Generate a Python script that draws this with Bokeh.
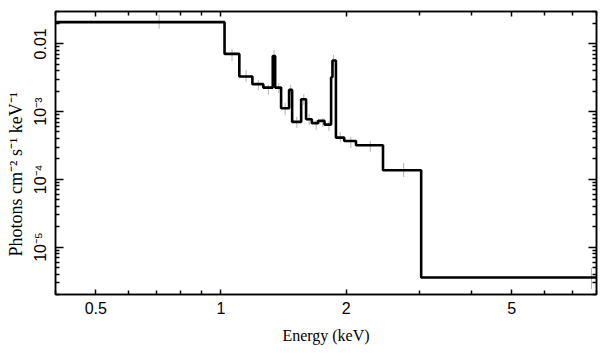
from bokeh.plotting import figure
from bokeh.models import LogAxis, FixedTicker, CustomJSTickFormatter, Range1d, ColumnDataSource, Title
from bokeh.embed import file_html
from bokeh.resources import INLINE

# Model step function: bin edges (keV) and model values (photons cm^-2 s^-1 keV^-1)
bin_edges = [0.4, 1.02, 1.107, 1.19, 1.264, 1.332, 1.350, 1.395, 1.458, 1.483,
             1.559, 1.602, 1.654, 1.713, 1.774, 1.840, 1.854, 1.89, 1.979,
             2.112, 2.453, 3.03, 8.0]
model_vals = [0.0209, 0.0071, 0.00329, 0.00254, 0.00226, 0.0066, 0.00226,
              0.00112, 0.00209, 0.000705, 0.00152, 0.000773, 0.000675,
              0.00073, 0.000643, 0.00322, 0.00567, 0.000413, 0.000369,
              0.000318, 0.000136, 3.56e-6]

# Data points with error ranges
data_energy = [0.71, 1.063, 1.149, 1.23, 1.30, 1.342, 1.377, 1.427, 1.471,
               1.522, 1.582, 1.63, 1.694, 1.758, 1.818, 1.865, 1.935, 2.053,
               2.286, 2.75, 7.78]
data_lo = [0.0167, 0.00561, 0.00275, 0.00209, 0.00177, 0.00581, 0.00189,
           0.000894, 0.00177, 0.000574, 0.00126, 0.000637, 0.000537,
           0.000594, 0.000519, 0.00473, 0.000356, 0.000291, 0.000254,
           0.000108, 2.40e-6]
data_hi = [0.0268, 0.00844, 0.00413, 0.00294, 0.00248, 0.00815, 0.00265,
           0.00135, 0.00248, 0.000836, 0.00182, 0.000925, 0.000754,
           0.000807, 0.000729, 0.00689, 0.000501, 0.000423, 0.000369,
           0.000175, 4.91e-6]

xtick_vals = [0.5, 1, 2, 5]
xtick_labels = ["0.5", "1", "2", "5"]
xminor_vals = [0.4, 0.6, 0.7, 0.8, 0.9, 3, 4, 6, 7, 8]
ytick_vals = [1e-5, 1e-4, 1e-3, 1e-2]
ytick_labels = ["10\u207b\u2075", "10\u207b\u2074", "10\u207b\u00b3", "0.01"]
yminor_vals = [m * 10.0 ** e for e in range(-6, -1) for m in range(2, 10)]

x_label = "Energy (keV)"
y_label = "Photons cm\u207b\u00b2 s\u207b\u00b9 keV\u207b\u00b9"

p = figure(frame_width=541, frame_height=283, x_axis_type="log", y_axis_type="log",
           x_range=Range1d(0.4, 8.0), y_range=Range1d(2e-6, 0.03),
           output_backend="svg", toolbar_location=None,
           min_border_left=0, min_border_right=4, min_border_top=11,
           min_border_bottom=0)
p.grid.visible = False
p.outline_line_color = "black"
p.outline_line_width = 1.5
p.background_fill_color = "white"
p.border_fill_color = "white"

fmt_code = """
for (let i = 0; i < vals.length; i++) {
  if (Math.abs(Math.log10(tick) - Math.log10(vals[i])) < 1e-6) return labs[i];
}
return "";
"""
xfmt = CustomJSTickFormatter(args=dict(vals=xtick_vals, labs=xtick_labels), code=fmt_code)
yfmt = CustomJSTickFormatter(args=dict(vals=ytick_vals, labs=ytick_labels), code=fmt_code)
blank = CustomJSTickFormatter(code='return "";')

def style(ax, ticker, fmt, show_labels):
    ax.ticker = ticker
    ax.formatter = fmt
    ax.axis_line_color = "black"
    ax.axis_line_width = 1.5
    ax.major_tick_line_width = 1.5
    ax.minor_tick_line_width = 1.5
    ax.major_tick_out = 0
    ax.minor_tick_out = 0
    ax.minor_tick_in = 4
    ax.major_label_text_font = "Liberation Sans"
    if show_labels:
        ax.major_label_text_font_size = "16px"
        ax.major_label_text_color = "black"
    else:
        ax.major_label_text_font_size = "1px"
        ax.major_label_text_color = None
        ax.major_label_standoff = 0
    ax.axis_label_text_font = "Liberation Serif"
    ax.axis_label_text_font_style = "normal"
    ax.axis_label_text_font_size = "16px"
    ax.axis_label_text_color = "black"

xa = p.xaxis[0]
style(xa, FixedTicker(ticks=xtick_vals, minor_ticks=xminor_vals), xfmt, True)
xa.major_tick_in = 5
xa.major_label_standoff = 7
xa.axis_label = x_label
xa.axis_label_standoff = 10

ya = p.yaxis[0]
style(ya, FixedTicker(ticks=ytick_vals, minor_ticks=yminor_vals), yfmt, True)
ya.major_tick_in = 8
ya.major_label_orientation = "vertical"
ya.major_label_standoff = 6

ylab = Title(text=y_label, align="left", offset=38, standoff=7,
             text_font="Liberation Serif", text_font_style="normal",
             text_font_size="18px", text_color="black")
p.add_layout(ylab, "left")

top = LogAxis()
style(top, FixedTicker(ticks=xtick_vals, minor_ticks=xminor_vals), blank, False)
top.major_tick_in = 5
p.add_layout(top, "above")

right = LogAxis()
style(right, FixedTicker(ticks=ytick_vals, minor_ticks=yminor_vals), blank, False)
right.major_tick_in = 8
p.add_layout(right, "right")

err = ColumnDataSource(dict(x=data_energy, lo=data_lo, hi=data_hi))
p.segment(x0="x", y0="lo", x1="x", y1="hi", source=err, line_color="#b4b4b4", line_width=1)

step_y = model_vals + [model_vals[-1]]
p.step(x=bin_edges, y=step_y, mode="after", line_color="black", line_width=2.6)

open("out.html", "w").write(file_html(p, INLINE))
